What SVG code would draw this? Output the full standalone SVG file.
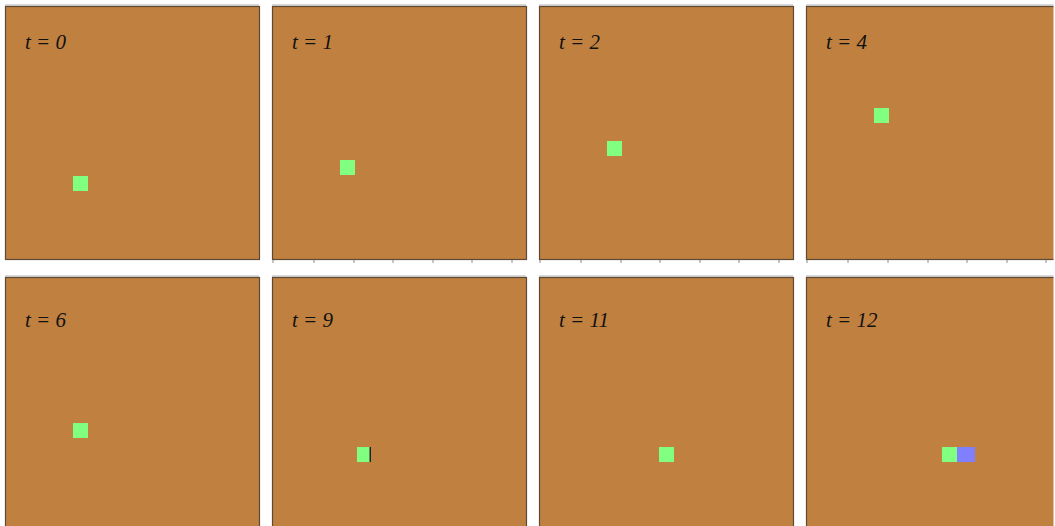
<svg xmlns="http://www.w3.org/2000/svg" width="1055" height="526" viewBox="0 0 1055 526">
<defs>
<clipPath id="cr"><rect x="0" y="0" width="1053.5" height="526"/></clipPath>
</defs>
<style>
.p{fill:#C08040;stroke:#5E4A32;stroke-width:1.2}
.sh{fill:none;stroke:#B0B0B0;stroke-width:1}
.t{font-family:"Liberation Serif",serif;font-style:italic;font-size:21px;fill:#111}
.g{fill:#80FF80}
.b{fill:#8080FF}
.tk{stroke:#8a8a8a;stroke-width:1}
</style>
<rect width="1055" height="526" fill="#fff"/>
<g id="panel-t0">
<line class="sh" x1="5" y1="5" x2="259" y2="5"/>
<rect class="p" x="5.5" y="6.5" width="254" height="253"/>
<text class="t" x="25" y="49">t = 0</text>
<rect class="g" x="73" y="176" width="15" height="15"/>
</g>
<g id="panel-t1">
<line class="sh" x1="272" y1="5" x2="526" y2="5"/>
<rect class="p" x="272.5" y="6.5" width="254" height="253"/>
<text class="t" x="292" y="49">t = 1</text>
<rect class="g" x="340" y="160" width="15" height="15"/>
<g class="tk"><line x1="273" y1="260" x2="273" y2="263"/><line x1="314" y1="260" x2="314" y2="263"/><line x1="354" y1="260" x2="354" y2="263"/><line x1="393" y1="260" x2="393" y2="263"/><line x1="433" y1="260" x2="433" y2="263"/><line x1="472" y1="260" x2="472" y2="263"/><line x1="512" y1="260" x2="512" y2="263"/></g>
</g>
<g id="panel-t2">
<line class="sh" x1="539" y1="5" x2="793" y2="5"/>
<rect class="p" x="539.5" y="6.5" width="254" height="253"/>
<text class="t" x="559" y="49">t = 2</text>
<rect class="g" x="607" y="141" width="15" height="15"/>
<g class="tk"><line x1="540" y1="260" x2="540" y2="263"/><line x1="581" y1="260" x2="581" y2="263"/><line x1="621" y1="260" x2="621" y2="263"/><line x1="660" y1="260" x2="660" y2="263"/><line x1="700" y1="260" x2="700" y2="263"/><line x1="739" y1="260" x2="739" y2="263"/><line x1="779" y1="260" x2="779" y2="263"/></g>
</g>
<g id="panel-t4" clip-path="url(#cr)">
<line class="sh" x1="806" y1="5" x2="1055" y2="5"/>
<rect class="p" x="806.5" y="6.5" width="254" height="253"/>
<text class="t" x="826" y="49">t = 4</text>
<rect class="g" x="874" y="108" width="15" height="15"/>
<g class="tk"><line x1="807" y1="260" x2="807" y2="263"/><line x1="848" y1="260" x2="848" y2="263"/><line x1="888" y1="260" x2="888" y2="263"/><line x1="928" y1="260" x2="928" y2="263"/><line x1="967" y1="260" x2="967" y2="263"/><line x1="1007" y1="260" x2="1007" y2="263"/><line x1="1046" y1="260" x2="1046" y2="263"/></g>
</g>
<g id="panel-t6">
<line class="sh" x1="5" y1="276" x2="259" y2="276"/>
<rect class="p" x="5.5" y="277.5" width="254" height="260"/>
<text class="t" x="25" y="327">t = 6</text>
<rect class="g" x="73" y="423" width="15" height="15"/>
</g>
<g id="panel-t9">
<line class="sh" x1="272" y1="276" x2="526" y2="276"/>
<rect class="p" x="272.5" y="277.5" width="254" height="260"/>
<text class="t" x="292" y="327">t = 9</text>
<rect class="g" x="357" y="447" width="13" height="15"/>
<rect x="369.5" y="447" width="1.5" height="15" fill="#222"/>
</g>
<g id="panel-t11">
<line class="sh" x1="539" y1="276" x2="793" y2="276"/>
<rect class="p" x="539.5" y="277.5" width="254" height="260"/>
<text class="t" x="559" y="327">t = 11</text>
<rect class="g" x="659" y="447" width="15" height="15"/>
</g>
<g id="panel-t12" clip-path="url(#cr)">
<line class="sh" x1="806" y1="276" x2="1055" y2="276"/>
<rect class="p" x="806.5" y="277.5" width="254" height="260"/>
<text class="t" x="826" y="327">t = 12</text>
<rect class="g" x="942" y="447" width="15" height="15"/>
<rect class="b" x="957" y="447" width="18" height="15"/>
</g>
<g id="connectors"/>
</svg>
